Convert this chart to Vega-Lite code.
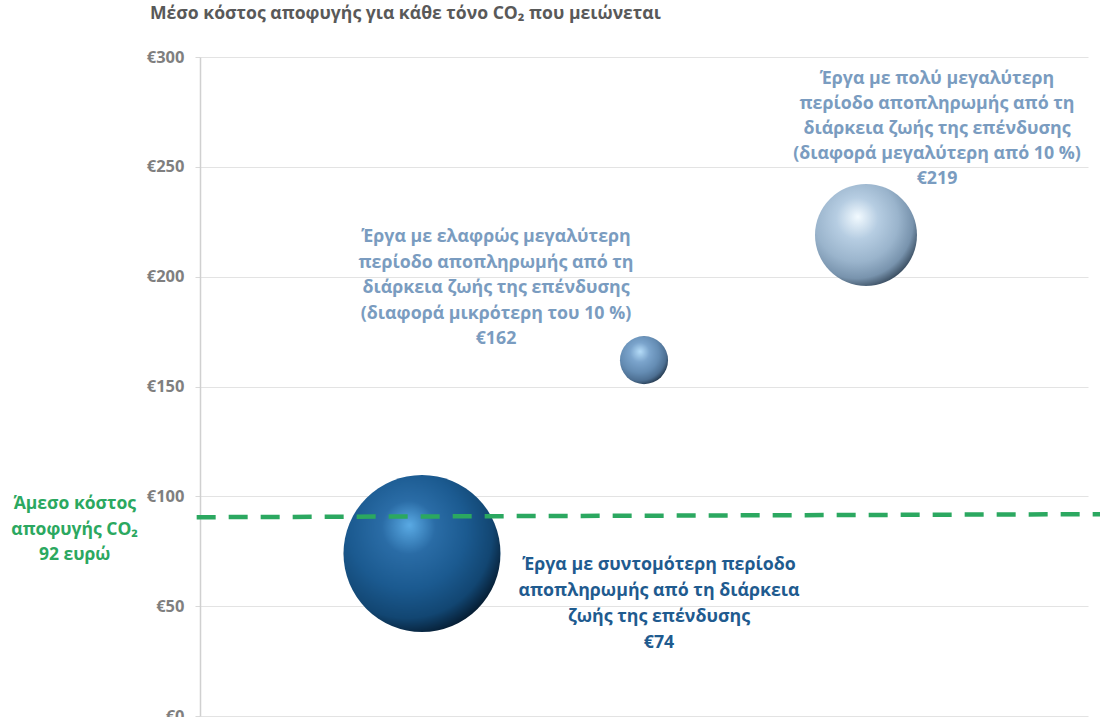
{
  "$schema": "https://vega.github.io/schema/vega-lite/v6.json",
  "width": 888,
  "height": 659,
  "autosize": {"type": "none"},
  "padding": {"left": 200, "top": 57, "right": 12, "bottom": 1},
  "background": "white",
  "config": {"view": {"stroke": null}, "font": "Open Sans"},
  "title": {
    "text": "Μέσο κόστος αποφυγής για κάθε τόνο CO₂ που μειώνεται",
    "anchor": "start",
    "frame": "group",
    "dx": -50,
    "offset": 26,
    "font": "Open Sans",
    "fontSize": 17.6,
    "fontWeight": "bold",
    "color": "#595959"
  },
  "datasets": {
    "projects": [
      {"group": "short", "x": 1, "cost": 74, "weight": 64, "label": "Έργα με συντομότερη περίοδο\nαποπληρωμής από τη διάρκεια\nζωής της επένδυσης\n€74"},
      {"group": "slight", "x": 2, "cost": 162, "weight": 6, "label": "Έργα με ελαφρώς μεγαλύτερη\nπερίοδο αποπληρωμής από τη\nδιάρκεια ζωής της επένδυσης\n(διαφορά μικρότερη του 10 %)\n€162"},
      {"group": "much", "x": 3, "cost": 219, "weight": 27, "label": "Έργα με πολύ μεγαλύτερη\nπερίοδο αποπληρωμής από τη\nδιάρκεια ζωής της επένδυσης\n(διαφορά μεγαλύτερη από 10 %)\n€219"}
    ],
    "threshold": [
      {"x": -0.015, "cost": 90.5, "label": "Άμεσο κόστος\nαποφυγής CO₂\n92 ευρώ"},
      {"x": 4.1, "cost": 91.9}
    ]
  },
  "encoding": {
    "x": {"field": "x", "type": "quantitative", "scale": {"domain": [0, 4], "nice": false, "zero": false}, "axis": null},
    "y": {
      "field": "cost",
      "type": "quantitative",
      "scale": {"domain": [0, 300], "nice": false},
      "axis": {
        "title": null,
        "values": [0, 50, 100, 150, 200, 250, 300],
        "labelExpr": "'€' + datum.value",
        "labelFont": "Open Sans",
        "labelFontSize": 16.5,
        "labelFontWeight": "bold",
        "labelColor": "#7f7f7f",
        "labelPadding": 11,
        "tickSize": 5,
        "tickColor": "#d9d9d9",
        "domainColor": "#d0d0d0",
        "domainWidth": 1.5,
        "grid": true,
        "gridColor": "#e3e3e3",
        "gridWidth": 1
      }
    }
  },
  "layer": [
    {
      "data": {"name": "projects"},
      "transform": [{"filter": "datum.group == 'short'"}],
      "layer": [
        {
          "mark": {
            "type": "point", "shape": "circle", "filled": true, "opacity": 1, "strokeWidth": 0,
            "fill": {"gradient": "radial", "x1": 0.42, "y1": 0.32, "r1": 0, "x2": 0.4, "y2": 0.38, "r2": 0.68,
              "stops": [
                {"offset": 0, "color": "#5aaae4"},
                {"offset": 0.25, "color": "#2a6ca6"},
                {"offset": 0.55, "color": "#1b5a90"},
                {"offset": 0.8, "color": "#124672"},
                {"offset": 1, "color": "#041526"}
              ]}
          },
          "encoding": {"size": {"field": "weight", "type": "quantitative", "scale": {"domain": [0, 64], "range": [0, 24649]}, "legend": null}}
        },
        {
          "mark": {"type": "text", "align": "center", "baseline": "alphabetic", "dx": 237, "dy": 17, "lineBreak": "\n", "lineHeight": 26, "font": "Open Sans", "fontSize": 17.8, "fontWeight": "bold", "color": "#1f5b8f"},
          "encoding": {"text": {"field": "label"}}
        }
      ]
    },
    {
      "data": {"name": "projects"},
      "transform": [{"filter": "datum.group == 'slight'"}],
      "layer": [
        {
          "mark": {
            "type": "point", "shape": "circle", "filled": true, "opacity": 1, "strokeWidth": 0,
            "fill": {"gradient": "radial", "x1": 0.42, "y1": 0.32, "r1": 0, "x2": 0.4, "y2": 0.38, "r2": 0.68,
              "stops": [
                {"offset": 0, "color": "#b5dcf8"},
                {"offset": 0.3, "color": "#7ba4cc"},
                {"offset": 0.6, "color": "#648cb3"},
                {"offset": 0.82, "color": "#4d6f92"},
                {"offset": 1, "color": "#1c2e40"}
              ]}
          },
          "encoding": {"size": {"field": "weight", "type": "quantitative", "scale": {"domain": [0, 64], "range": [0, 24649]}, "legend": null}}
        },
        {
          "mark": {"type": "text", "align": "center", "baseline": "alphabetic", "dx": -148, "dy": -118, "lineBreak": "\n", "lineHeight": 25.5, "font": "Open Sans", "fontSize": 17.8, "fontWeight": "bold", "color": "#7a9cc0"},
          "encoding": {"text": {"field": "label"}}
        }
      ]
    },
    {
      "data": {"name": "projects"},
      "transform": [{"filter": "datum.group == 'much'"}],
      "layer": [
        {
          "mark": {
            "type": "point", "shape": "circle", "filled": true, "opacity": 1, "strokeWidth": 0,
            "fill": {"gradient": "radial", "x1": 0.42, "y1": 0.32, "r1": 0, "x2": 0.4, "y2": 0.38, "r2": 0.68,
              "stops": [
                {"offset": 0, "color": "#f2faff"},
                {"offset": 0.3, "color": "#b6cde2"},
                {"offset": 0.6, "color": "#9ab4cc"},
                {"offset": 0.82, "color": "#7893ad"},
                {"offset": 1, "color": "#2c3e50"}
              ]}
          },
          "encoding": {"size": {"field": "weight", "type": "quantitative", "scale": {"domain": [0, 64], "range": [0, 24649]}, "legend": null}}
        },
        {
          "mark": {"type": "text", "align": "center", "baseline": "alphabetic", "dx": 71, "dy": -151, "lineBreak": "\n", "lineHeight": 25, "font": "Open Sans", "fontSize": 17.8, "fontWeight": "bold", "color": "#7a9cc0"},
          "encoding": {"text": {"field": "label"}}
        }
      ]
    },
    {
      "data": {"name": "threshold"},
      "mark": {"type": "line", "color": "#2ba860", "strokeWidth": 4.5, "strokeDash": [19, 13], "strokeCap": "butt"},
      "encoding": {}
    },
    {
      "data": {"name": "threshold"},
      "transform": [{"filter": "isValid(datum.label)"}],
      "mark": {"type": "text", "align": "center", "baseline": "alphabetic", "dx": -122, "dy": -8, "lineBreak": "\n", "lineHeight": 25.5, "font": "Open Sans", "fontSize": 17.5, "fontWeight": "bold", "color": "#2ba860"},
      "encoding": {"text": {"field": "label"}}
    }
  ]
}
